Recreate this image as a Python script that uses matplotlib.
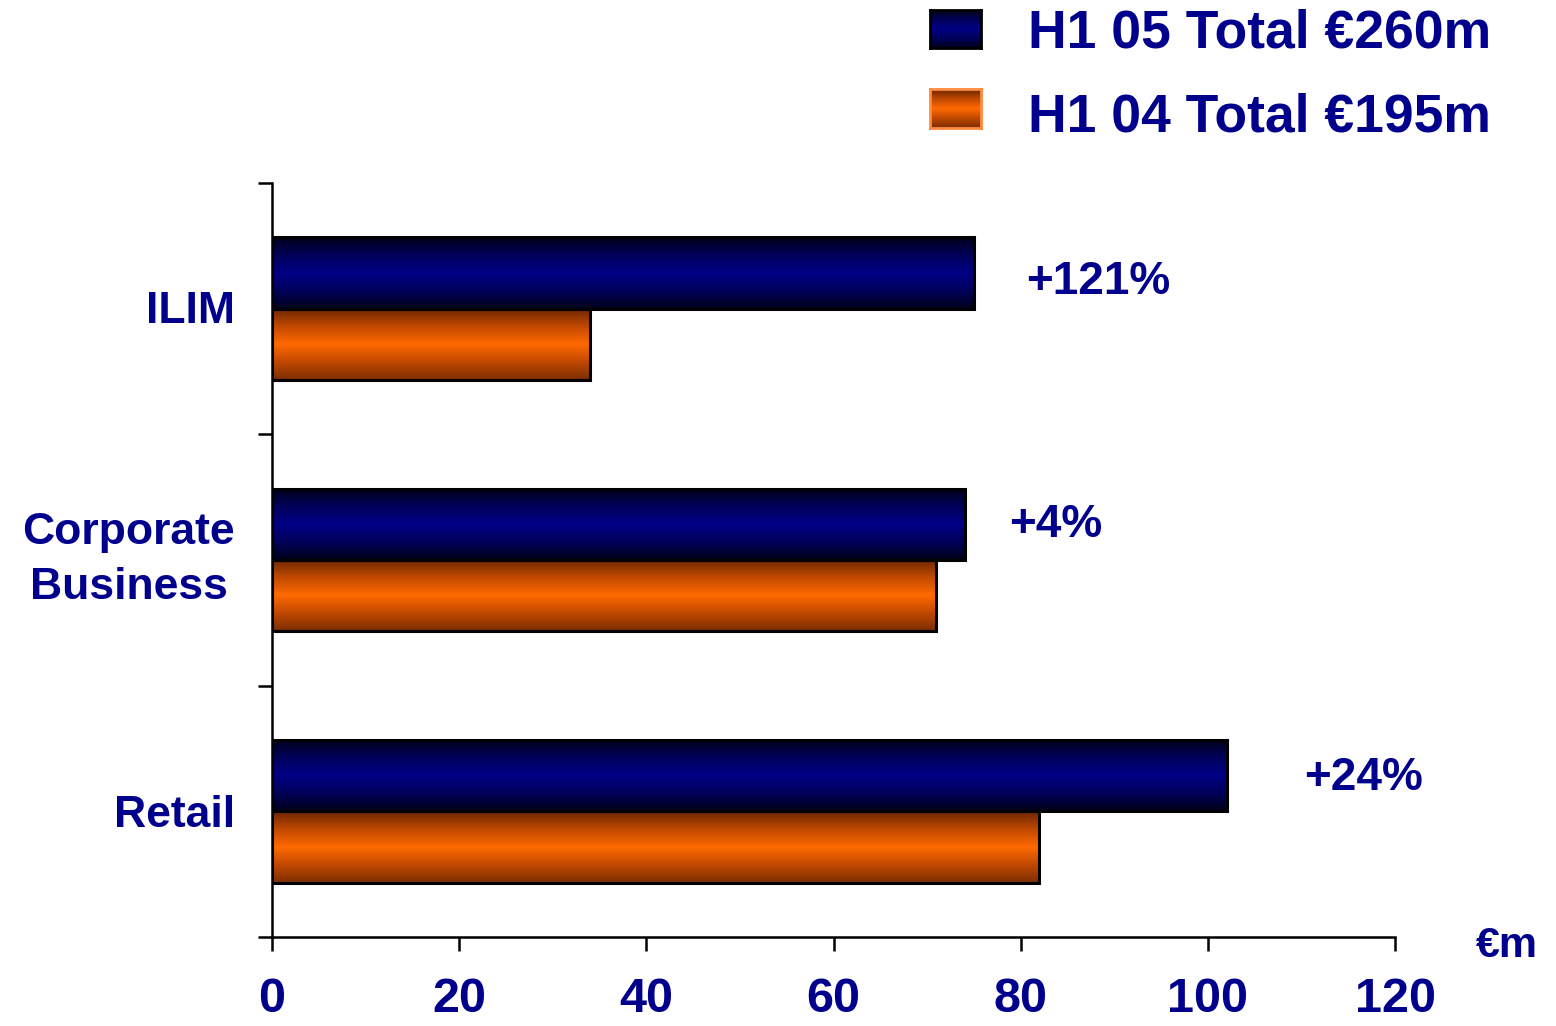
import numpy as np
import matplotlib
matplotlib.use("Agg")
import matplotlib.pyplot as plt
import matplotlib.transforms as mtransforms
from matplotlib.colors import LinearSegmentedColormap

plt.rcParams['font.family'] = ['Liberation Sans', 'DejaVu Sans']
plt.rcParams['font.weight'] = 'bold'

categories = ["Retail", "Corporate\nBusiness", "ILIM"]
h1_05 = [102, 74, 75]
h1_04 = [82, 71, 34]
growth_labels = ["+24%", "+4%", "+121%"]
legend_labels = ["H1 05 Total €260m", "H1 04 Total €195m"]
xticks = [0, 20, 40, 60, 80, 100, 120]

TEXT = "#00008C"
DPI = 100
W, H = 1556, 1026
navy_cmap = LinearSegmentedColormap.from_list(
    "navy", ["#000018", "#00005a", "#000086", "#00005a", "#000018"])
orange_cmap = LinearSegmentedColormap.from_list(
    "orange", ["#7a2e00", "#c04800", "#ff6a00", "#c04800", "#6a2600"])

fig = plt.figure(figsize=(W / DPI, H / DPI), dpi=DPI)
ax = fig.add_axes([272 / W, 1 - 937 / H, (1395 - 272) / W, (937 - 183) / H])

y = np.arange(len(categories))
bar_h = 0.284
grad = np.linspace(0, 1, 256).reshape(-1, 1)


def gradient_bars(values, offset, cmap):
    bars = ax.barh(y + offset, values, height=bar_h, facecolor="none",
                   edgecolor="black", linewidth=2.2, zorder=3)
    for b in bars:
        x0, y0 = b.get_x(), b.get_y()
        w, h = b.get_width(), b.get_height()
        im = ax.imshow(grad, cmap=cmap, extent=[x0, x0 + w, y0, y0 + h],
                       aspect="auto", origin="lower", zorder=2,
                       interpolation="bilinear")
        im.set_clip_path(b)
    return bars


gradient_bars(h1_05, bar_h / 2, navy_cmap)
gradient_bars(h1_04, -bar_h / 2, orange_cmap)

ax.set_xlim(0, 120)
ax.set_ylim(-0.5, len(categories) - 0.5)

# growth annotations (text baseline positions in data units)
growth_pos = [(110.3, 0.085), (78.8, 1.092), (80.6, 2.058)]
for lbl, (gx, gy) in zip(growth_labels, growth_pos):
    ax.text(gx, gy, lbl, color=TEXT, fontsize=33, fontweight="bold",
            ha="left", va="baseline")

for side in ("top", "right"):
    ax.spines[side].set_visible(False)
ax.spines["left"].set_linewidth(1.8)
ax.spines["bottom"].set_linewidth(1.8)

ax.set_xticks(xticks)
ax.set_xticklabels([str(v) for v in xticks])
ax.tick_params(axis="x", direction="out", length=10, width=1.8,
               labelsize=35, labelcolor=TEXT, pad=19)
ax.set_yticks(np.arange(-0.5, len(categories), 1.0))
ax.set_yticklabels([])
ax.tick_params(axis="y", direction="out", length=10, width=1.8)
for t in ax.get_xticklabels():
    t.set_fontweight("bold")

# category labels; last-line baseline shifted (pixels) from each category centre
label_shift_px = [-16, -39, -14]
blend = mtransforms.blended_transform_factory(ax.transAxes, ax.transData)
for yi, cat, dy in zip(y, categories, label_shift_px):
    tr = mtransforms.offset_copy(blend, fig=fig, x=-37, y=dy, units="dots")
    ax.text(0, yi, cat, color=TEXT, fontsize=32, fontweight="bold",
            ha="right", va="baseline", multialignment="center",
            linespacing=1.45, transform=tr)

fig.text(1538 / W, 1 - 957 / H, "€m", color=TEXT, fontsize=31,
         fontweight="bold", ha="right", va="baseline")

# legend with gradient swatches
legend_rows = [(10, 48, 48, navy_cmap, "black"),
               (89, 128, 131, orange_cmap, "#ff8a40")]
for (top, bot, base, cmap, ec), lbl in zip(legend_rows, legend_labels):
    sax = fig.add_axes([930 / W, 1 - bot / H, 51 / W, (bot - top) / H])
    sax.imshow(grad, cmap=cmap, aspect="auto", origin="lower",
               extent=[0, 1, 0, 1], interpolation="bilinear")
    sax.set_xticks([])
    sax.set_yticks([])
    for s in sax.spines.values():
        s.set_edgecolor(ec)
        s.set_linewidth(2)
    fig.text(1028 / W, 1 - base / H, lbl, color=TEXT,
             fontsize=38.5, fontweight="bold", ha="left", va="baseline")

fig.savefig("out.png", dpi=DPI, facecolor="white")
